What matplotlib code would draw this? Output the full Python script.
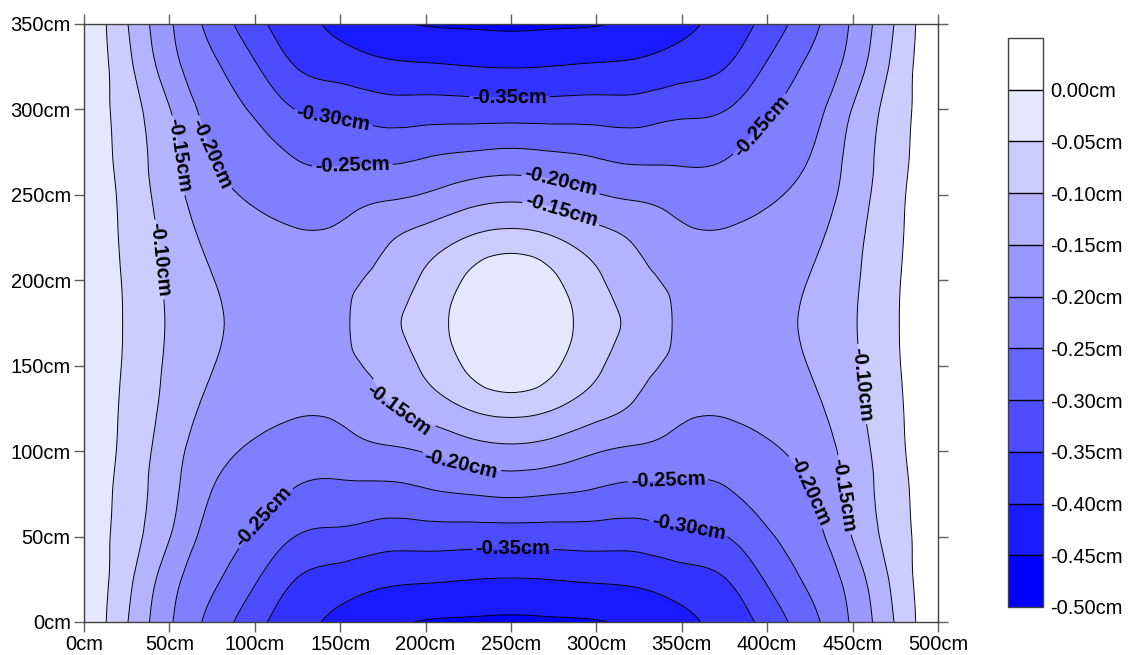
import numpy as np
import matplotlib
matplotlib.use("Agg")
import matplotlib.pyplot as plt
import matplotlib.tri as mtri

plt.rcParams['font.family'] = ['Liberation Sans', 'DejaVu Sans']

# grid of the plate (cm)
x_cm = [0, 25, 50, 75, 100, 125, 150, 175, 200, 225, 250,
        275, 300, 325, 350, 375, 400, 425, 450, 475, 500]
y_cm = [0, 25, 50, 75, 100, 125, 150, 175, 200, 225, 250, 275, 300, 325, 350]

# deflection (cm), one row per y value
deflection = [
    [-0.003, -0.097, -0.193, -0.266, -0.333, -0.381, -0.413, -0.435, -0.453, -0.456, -0.459, -0.456, -0.453, -0.435, -0.413, -0.381, -0.333, -0.266, -0.193, -0.097, -0.003],
    [-0.003, -0.086, -0.178, -0.241, -0.294, -0.352, -0.373, -0.389, -0.394, -0.399, -0.402, -0.399, -0.394, -0.389, -0.373, -0.352, -0.294, -0.241, -0.178, -0.086, -0.003],
    [-0.003, -0.076, -0.148, -0.221, -0.257, -0.302, -0.312, -0.326, -0.326, -0.327, -0.327, -0.327, -0.326, -0.326, -0.312, -0.302, -0.257, -0.221, -0.148, -0.076, -0.003],
    [-0.003, -0.071, -0.134, -0.202, -0.230, -0.257, -0.265, -0.267, -0.258, -0.249, -0.243, -0.249, -0.258, -0.267, -0.265, -0.257, -0.230, -0.202, -0.134, -0.071, -0.003],
    [-0.003, -0.065, -0.127, -0.183, -0.206, -0.223, -0.221, -0.209, -0.197, -0.174, -0.163, -0.174, -0.197, -0.209, -0.221, -0.223, -0.206, -0.183, -0.127, -0.065, -0.003],
    [-0.003, -0.061, -0.115, -0.165, -0.190, -0.195, -0.189, -0.160, -0.130, -0.098, -0.082, -0.098, -0.130, -0.160, -0.189, -0.195, -0.190, -0.165, -0.115, -0.061, -0.003],
    [-0.003, -0.057, -0.108, -0.148, -0.178, -0.181, -0.163, -0.135, -0.091, -0.042, -0.012, -0.042, -0.091, -0.135, -0.163, -0.181, -0.178, -0.148, -0.108, -0.057, -0.003],
    [-0.003, -0.055, -0.105, -0.142, -0.167, -0.176, -0.158, -0.118, -0.076, -0.028, -0.006, -0.028, -0.076, -0.118, -0.158, -0.176, -0.167, -0.142, -0.105, -0.055, -0.003],
    [-0.003, -0.057, -0.108, -0.148, -0.178, -0.181, -0.163, -0.135, -0.091, -0.042, -0.012, -0.042, -0.091, -0.135, -0.163, -0.181, -0.178, -0.148, -0.108, -0.057, -0.003],
    [-0.003, -0.061, -0.115, -0.165, -0.190, -0.195, -0.189, -0.160, -0.130, -0.098, -0.082, -0.098, -0.130, -0.160, -0.189, -0.195, -0.190, -0.165, -0.115, -0.061, -0.003],
    [-0.003, -0.065, -0.127, -0.183, -0.206, -0.223, -0.221, -0.209, -0.197, -0.174, -0.163, -0.174, -0.197, -0.209, -0.221, -0.223, -0.206, -0.183, -0.127, -0.065, -0.003],
    [-0.003, -0.071, -0.134, -0.202, -0.230, -0.257, -0.265, -0.267, -0.258, -0.249, -0.243, -0.249, -0.258, -0.267, -0.265, -0.257, -0.230, -0.202, -0.134, -0.071, -0.003],
    [-0.003, -0.076, -0.148, -0.221, -0.257, -0.302, -0.312, -0.326, -0.326, -0.327, -0.327, -0.327, -0.326, -0.326, -0.312, -0.302, -0.257, -0.221, -0.148, -0.076, -0.003],
    [-0.003, -0.086, -0.178, -0.241, -0.294, -0.352, -0.373, -0.389, -0.394, -0.399, -0.402, -0.399, -0.394, -0.389, -0.373, -0.352, -0.294, -0.241, -0.178, -0.086, -0.003],
    [-0.003, -0.097, -0.193, -0.266, -0.333, -0.381, -0.413, -0.435, -0.453, -0.456, -0.459, -0.456, -0.453, -0.435, -0.413, -0.381, -0.333, -0.266, -0.193, -0.097, -0.003],
]

levels = [-0.50, -0.45, -0.40, -0.35, -0.30, -0.25, -0.20, -0.15, -0.10, -0.05, 0.00, 0.05]
band_colors = ['#0000FF', '#1A1AFF', '#3333FF', '#4D4DFF', '#6666FF', '#8080FF',
               '#9999FF', '#B3B3FF', '#CCCCFF', '#E6E6FF', '#FFFFFF']
label_levels = [-0.35, -0.30, -0.25, -0.20, -0.15, -0.10]
plain_levels = [-0.45, -0.40, -0.05]

x_ticks = [0, 50, 100, 150, 200, 250, 300, 350, 400, 450, 500]
y_ticks = [0, 50, 100, 150, 200, 250, 300, 350]

# where the contour labels sit (cm)
label_spots = [(146, 297), (157, 269), (55, 273), (80, 276), (43, 212),
               (249, 308), (396, 291), (279, 256), (279, 239), (186, 127),
               (221, 93), (342, 81), (354, 55), (251, 41), (106, 61),
               (417, 74), (442, 74), (453, 139)]

Z = np.array(deflection)
Xg, Yg = np.meshgrid(x_cm, y_cm)
nx, ny = len(x_cm), len(y_cm)

# split each grid cell in two, diagonals mirrored about the plate centre
triangles = []
for i in range(ny - 1):
    for j in range(nx - 1):
        a = i * nx + j
        b, c, d = a + 1, a + nx, a + nx + 1
        if (j < (nx - 1) // 2) == (i < (ny - 1) // 2):
            triangles += [[a, b, d], [a, d, c]]
        else:
            triangles += [[a, b, c], [b, d, c]]

tri = mtri.Triangulation(Xg.ravel(), Yg.ravel(), triangles)
interp = mtri.CubicTriInterpolator(tri, Z.ravel(), kind='min_E')
refiner = mtri.UniformTriRefiner(tri)
tri_f, z_f = refiner.refine_field(Z.ravel(), triinterpolator=interp, subdiv=3)

fig = plt.figure(figsize=(11.28, 6.55), dpi=100)
ax = fig.add_axes([0.0745, 0.0504, 0.757, 0.913])
cax = fig.add_axes([0.8936, 0.0733, 0.031, 0.8687])

cf = ax.tricontourf(tri_f, z_f, levels=levels, colors=band_colors)
# the band next to the right edge is left unfilled in the original
cx = tri_f.x[tri_f.triangles].mean(axis=1)
tri_right = mtri.Triangulation(tri_f.x, tri_f.y, tri_f.triangles[cx > 400])
ax.tricontourf(tri_right, z_f, levels=[-0.05, 0.0], colors='white')

ax.tricontour(tri_f, z_f, levels=plain_levels, colors='black',
              linewidths=0.7, linestyles='solid')
cs = ax.tricontour(tri_f, z_f, levels=label_levels, colors='black',
                   linewidths=0.7, linestyles='solid')
labels = ax.clabel(cs, manual=label_spots, inline=True, inline_spacing=4,
                   fmt=lambda v: '{:.2f}cm'.format(v), fontsize=14.5, colors='black')
for t in labels:
    t.set_fontweight('bold')

ax.set_xlim(0, 500)
ax.set_ylim(0, 350)
ax.set_xticks(x_ticks)
ax.set_xticklabels(['{}cm'.format(v) for v in x_ticks])
ax.set_yticks(y_ticks)
ax.set_yticklabels(['{}cm'.format(v) for v in y_ticks])
ax.tick_params(direction='out', length=7.5, width=1, color='#606060', labelsize=14.5,
               top=True, right=True, pad=2)
for s in ax.spines.values():
    s.set_color('#404040')
    s.set_linewidth(1)

cbar = fig.colorbar(cf, cax=cax, ticks=levels[:-1])
cbar.ax.set_yticklabels(['{:.2f}cm'.format(v) for v in levels[:-1]])
cbar.ax.tick_params(length=0, labelsize=14.5, pad=5)
cbar.add_lines(levels[1:-1], ['black'] * 10, [1.0] * 10)
cbar.outline.set_edgecolor('#404040')
cbar.outline.set_linewidth(1)

fig.savefig('out.png', dpi=100)
